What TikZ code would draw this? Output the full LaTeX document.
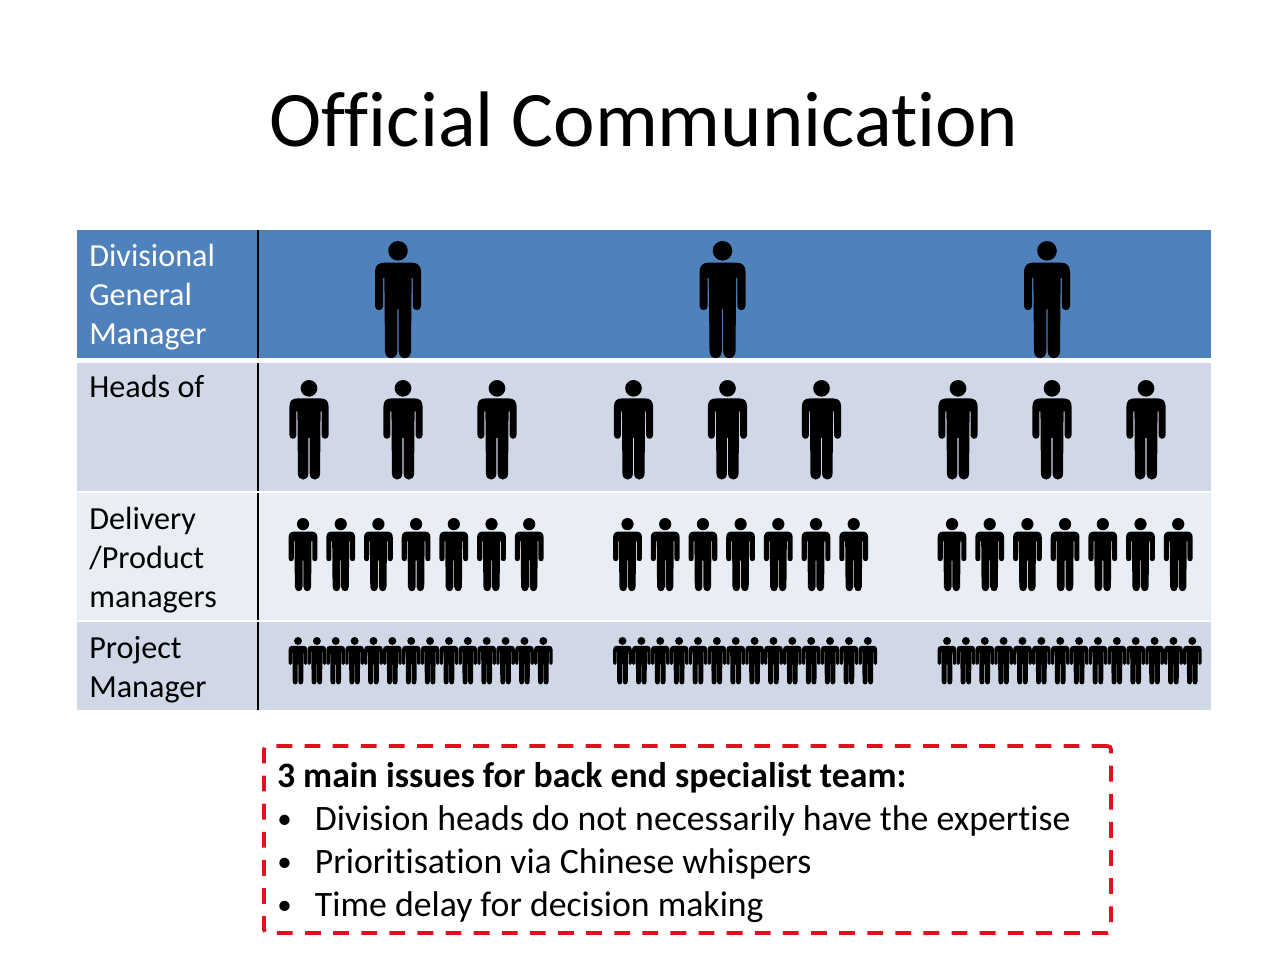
\documentclass[tikz,border=0pt]{standalone}
\usepackage{fontspec}
\setmainfont[Ligatures=NoCommon]{Carlito}
\definecolor{rowhead}{HTML}{4F81BD}
\definecolor{rowdark}{HTML}{D0D8E8}
\definecolor{rowlight}{HTML}{E9EDF4}
\definecolor{issuered}{HTML}{E2101E}
\newcommand{\issuebullet}{\makebox[21.6pt][l]{\hspace{0.2pt}\raisebox{1pt}{\fontsize{16.5}{16.5}\selectfont\textbullet}}}
\tikzset{
	person/.pic={
		\fill[black] (0,9.8) circle (9.8);
		\fill[black] (-14,21.7) -- (14,21.7)
		.. controls (20,21.7) and (23,25) .. (23,31) -- (23,65)
		.. controls (23,70.5) and (14.8,70.5) .. (14.8,65) -- (14.8,37) -- (13.6,37) -- (13.4,66) -- (13,110)
		.. controls (13,119.5) and (0.7,119.5) .. (0.7,110) -- (0.7,68) -- (-0.7,68) -- (-0.7,110)
		.. controls (-0.7,119.5) and (-13,119.5) .. (-13,110) -- (-13.4,66) -- (-13.6,37) -- (-14.8,37) -- (-14.8,65)
		.. controls (-14.8,70.5) and (-23,70.5) .. (-23,65) -- (-23,31)
		.. controls (-23,25) and (-20,21.7) .. (-14,21.7) -- cycle;
	},
	cell/.style={anchor=north west, inner sep=0pt, outer sep=0pt, minimum width=1134*0.02cm},
	rowlabel/.style={anchor=north west, inner sep=0pt, align=flush left, font=\fontsize{18.3}{22.1}\selectfont},
	sepline/.style={line width=1.1pt, black},
}
\begin{document}
\begin{tikzpicture}[x=0.02cm, y=-0.02cm]
	\useasboundingbox (0,0) rectangle (1288,966);
	
	% parameters
	\def\groupstep{324.5}  % distance between the three groups
	\def\sepx{258}         % x of the vertical line
	
	% title
	\node[inner sep=0pt, font=\fontsize{44.8}{50}\selectfont] (title) at (644,119) {Official Communication};
	
	% table rows
	\node[cell, fill=rowhead, minimum height=128*0.02cm] (rowA) at (77,230) {};
	\node[cell, fill=rowdark, minimum height=128*0.02cm] (rowB) at (77,363) {};
	\node[cell, fill=rowlight, minimum height=127*0.02cm] (rowC) at (77,493) {};
	\node[cell, fill=rowdark, minimum height=88*0.02cm] (rowD) at (77,622) {};
	
	% vertical line
	\draw[sepline] (\sepx,230) -- (\sepx,358);
	\draw[sepline] (\sepx,363) -- (\sepx,491);
	\draw[sepline] (\sepx,493) -- (\sepx,620);
	\draw[sepline] (\sepx,622) -- (\sepx,710);
	
	% row labels
	\node[rowlabel, white] (labelA) at (89,244) {Divisional\\General\\Manager};
	\node[rowlabel] (labelB) at (89,375) {Heads of};
	\node[rowlabel] (labelC) at (89,507) {Delivery\\/Product\\managers};
	\node[rowlabel] (labelD) at (89,636) {Project\\Manager};
	
	% people
	\foreach \g in {0,1,2} {
		\pic[scale=1] at (398+\g*\groupstep,241) {person};
		\foreach \i in {0,1,2}
		\pic[scale=0.85] at (309+\g*\groupstep+\i*94,380) {person};
		\foreach \i in {0,...,6}
		\pic[scale=0.625] at (303+\g*\groupstep+\i*37.7,518) {person};
		\foreach \i in {0,...,13}
		\pic[scale=0.405] at (298+\g*\groupstep+\i*18.87,637) {person};
	}
	
	% issues box
	\node[draw=issuered, line width=2.2pt, dash pattern=on 9pt off 7pt, rounded corners=2pt,
	anchor=north west, minimum width=847*0.02cm, minimum height=187*0.02cm, outer sep=0pt,
	inner xsep=7.4pt, inner ysep=0pt, align=flush left, text width=821*0.02cm,
	font=\fontsize{20.35}{24.4}\selectfont] (issues) at (264,746) {%
		\rule{0pt}{17.7pt}\textbf{3 main issues for back end specialist team:}\\
		\issuebullet Division heads do not necessarily have the expertise\\
		\issuebullet Prioritisation via Chinese whispers\\
		\issuebullet Time delay for decision making};
\end{tikzpicture}
\end{document}
